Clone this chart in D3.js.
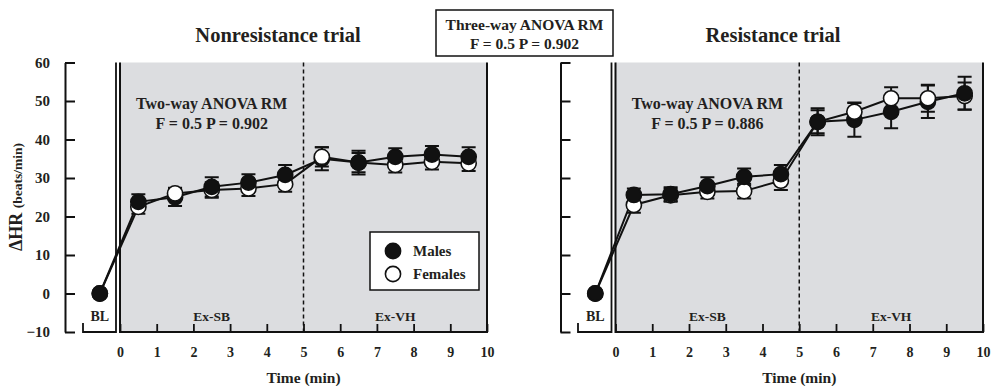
<!DOCTYPE html>
<html>
<head>
<meta charset="utf-8">
<script src="https://cdn.jsdelivr.net/npm/d3@7"></script>
<style>
    body { margin: 0; background: #fff; }
    text { font-family: "Liberation Serif", "Times New Roman", serif; font-weight: bold; fill: #231f20; }
</style>
</head>
<body>
<div id="chart"></div>
<script>
// time points: BL sits left of the exercise window
const timeLabels = ["BL", "0.5", "1.5", "2.5", "3.5", "4.5", "5.5", "6.5", "7.5", "8.5", "9.5"];
const timePoints = [-0.55, 0.5, 1.5, 2.5, 3.5, 4.5, 5.5, 6.5, 7.5, 8.5, 9.5];
const xTicks = [0, 1, 2, 3, 4, 5, 6, 7, 8, 9, 10];
const yTicks = [-10, 0, 10, 20, 30, 40, 50, 60];

// Nonresistance trial
const nonMales = [0, 23.8, 25.0, 27.7, 28.8, 30.8, 35.0, 34.0, 35.5, 36.1, 35.5];
const nonMalesSE = [0, 2.0, 2.3, 2.5, 2.2, 2.6, 3.0, 3.1, 2.2, 2.2, 2.5];
const nonFemales = [0, 22.5, 26.0, 26.9, 27.3, 28.4, 35.5, 34.0, 33.4, 34.2, 33.8];
const nonFemalesSE = [0, 1.8, 1.5, 2.0, 2.0, 2.0, 2.5, 2.5, 2.0, 2.0, 2.0];

// Resistance trial
const resMales = [0, 25.6, 25.8, 27.9, 30.3, 31.0, 44.6, 45.1, 47.2, 49.8, 52.0];
const resMalesSE = [0, 1.7, 1.8, 2.3, 2.2, 2.4, 3.5, 4.4, 4.3, 4.2, 4.3];
const resFemales = [0, 23.0, 25.5, 26.4, 26.6, 29.3, 44.6, 47.2, 50.7, 50.7, 51.3];
const resFemalesSE = [0, 2.0, 1.7, 1.7, 1.9, 2.4, 3.0, 2.4, 2.9, 3.5, 3.5];

const panels = [
    {
        title: "Nonresistance trial", titleX: 278,
        axisX: 65, blLeft: 83, blRight: 116, x0: 120, x10: 487,
        males: nonMales, malesSE: nonMalesSE, females: nonFemales, femalesSE: nonFemalesSE,
        anova: ["Two-way ANOVA RM", "F = 0.5 P = 0.902"],
        labels: true, legend: true
    },
    {
        title: "Resistance trial", titleX: 773,
        axisX: 560.5, blLeft: 578, blRight: 611.5, x0: 615.5, x10: 983,
        males: resMales, malesSE: resMalesSE, females: resFemales, femalesSE: resFemalesSE,
        anova: ["Two-way ANOVA RM", "F = 0.5 P = 0.886"],
        labels: false, legend: false
    }
];

const W = 993, H = 386;
const plotTop = 62.5, plotBottom = 332;

const svg = d3.select("#chart").append("svg")
    .attr("width", W)
    .attr("height", H);

const y = d3.scaleLinear().domain([-10, 60]).range([plotBottom, plotTop]);

function drawPanel(p) {
    const x = d3.scaleLinear().domain([0, 10]).range([p.x0, p.x10]);
    const g = svg.append("g");

    // shaded exercise area
    g.append("rect")
        .attr("x", x(0))
        .attr("y", plotTop)
        .attr("width", x(10) - x(0))
        .attr("height", plotBottom - plotTop)
        .attr("fill", "#dcdde0");

    g.append("path")
        .attr("d", `M${x(0)},${plotTop}V${plotBottom}H${x(10)}V${plotTop}`)
        .attr("fill", "none")
        .attr("stroke", "#111")
        .attr("stroke-width", 2);

    // BL bracket
    g.append("path")
        .attr("d", `M${p.blLeft},${plotBottom - 9}V${plotBottom}H${p.blRight}V${plotTop}`)
        .attr("fill", "none")
        .attr("stroke", "#111")
        .attr("stroke-width", 1.8);

    g.append("line")
        .attr("x1", x(5)).attr("x2", x(5))
        .attr("y1", plotTop).attr("y2", plotBottom)
        .attr("stroke", "#111")
        .attr("stroke-width", 1.5)
        .attr("stroke-dasharray", "4,3");

    // y axis
    const yAxis = g.append("g")
        .attr("transform", `translate(${p.axisX},0)`)
        .call(d3.axisLeft(y).tickValues(yTicks)
            .tickSizeInner(-10).tickSizeOuter(0).tickPadding(15)
            .tickFormat(p.labels ? d3.format("d") : ""));
    yAxis.select(".domain").attr("stroke", "#111").attr("stroke-width", 2);
    yAxis.selectAll(".tick line").attr("stroke", "#111").attr("stroke-width", 2);
    yAxis.selectAll(".tick text")
        .attr("font-size", 15)
        .attr("font-family", null)
        .attr("fill", null);

    // x axis
    const xAxis = g.append("g")
        .attr("transform", `translate(0,${plotBottom})`)
        .call(d3.axisBottom(x).tickValues(xTicks)
            .tickSizeInner(-8).tickSizeOuter(0).tickPadding(15));
    xAxis.select(".domain").remove();
    xAxis.selectAll(".tick line").attr("stroke", "#111").attr("stroke-width", 1.8);
    xAxis.selectAll(".tick text")
        .attr("font-size", 14)
        .attr("font-family", null)
        .attr("fill", null);

    g.append("text")
        .attr("x", x(5))
        .attr("y", 383)
        .attr("text-anchor", "middle")
        .attr("font-size", 15.5)
        .text("Time (min)");

    g.append("text")
        .attr("x", p.titleX)
        .attr("y", 42)
        .attr("text-anchor", "middle")
        .attr("font-size", 20.5)
        .text(p.title);

    // phase labels
    const bx = x(timePoints[0]);
    g.append("text").attr("x", bx).attr("y", 321)
        .attr("text-anchor", "middle").attr("font-size", 14).text("BL");
    g.append("text").attr("x", x(2.5)).attr("y", 321)
        .attr("text-anchor", "middle").attr("font-size", 13.5).text("Ex-SB");
    g.append("text").attr("x", x(7.5)).attr("y", 321)
        .attr("text-anchor", "middle").attr("font-size", 13.5).text("Ex-VH");

    g.selectAll(".anova")
        .data(p.anova)
        .enter()
        .append("text")
        .attr("x", x(2.5))
        .attr("y", (d, i) => 109 + i * 19.5)
        .attr("text-anchor", "middle")
        .attr("font-size", 16)
        .text(d => d);

    const series = [
        { name: "Males", values: p.males, se: p.malesSE, fill: "#111" },
        { name: "Females", values: p.females, se: p.femalesSE, fill: "#fff" }
    ];

    // error bars
    series.forEach(s => {
        s.values.forEach((v, i) => {
            if (s.se[i] === 0) return;
            const cx = x(timePoints[i]);
            const y1 = y(v + s.se[i]), y2 = y(v - s.se[i]);
            g.append("path")
                .attr("d", `M${cx},${y1}V${y2}M${cx - 7},${y1}H${cx + 7}M${cx - 7},${y2}H${cx + 7}`)
                .attr("stroke", "#111")
                .attr("stroke-width", 2)
                .attr("fill", "none");
        });
    });

    const line = d3.line()
        .x((d, i) => x(timePoints[i]))
        .y(d => y(d));

    series.forEach(s => {
        g.append("path")
            .datum(s.values)
            .attr("d", line)
            .attr("fill", "none")
            .attr("stroke", "#111")
            .attr("stroke-width", 2);
    });

    // higher value drawn on top, males win ties
    let pts = [];
    series.slice().reverse().forEach(s => s.values.forEach((v, i) => pts.push({ t: timePoints[i], v: v, fill: s.fill })));
    pts.sort((a, b) => a.v - b.v);
    g.selectAll(".pt")
        .data(pts)
        .enter()
        .append("circle")
        .attr("class", "pt")
        .attr("cx", d => x(d.t))
        .attr("cy", d => y(d.v))
        .attr("r", 7.6)
        .attr("fill", d => d.fill)
        .attr("stroke", "#111")
        .attr("stroke-width", 1.6);

    if (p.legend) {
        const lg = g.append("g").attr("transform", "translate(370,232)");
        lg.append("rect")
            .attr("width", 109).attr("height", 58)
            .attr("fill", "#fff").attr("stroke", "#111").attr("stroke-width", 1.5);
        series.forEach((s, i) => {
            lg.append("circle")
                .attr("cx", 23).attr("cy", 19 + i * 23).attr("r", 7.6)
                .attr("fill", s.fill).attr("stroke", "#111").attr("stroke-width", 1.6);
            lg.append("text")
                .attr("x", 43).attr("y", 24 + i * 23)
                .attr("font-size", 15)
                .text(s.name);
        });
    }

    if (p.labels) {
        g.append("text")
            .attr("transform", "rotate(-90)")
            .attr("x", -197)
            .attr("y", 22)
            .attr("text-anchor", "middle")
            .call(t => {
                t.append("tspan").attr("font-size", 18).text("ΔHR ");
                t.append("tspan").attr("font-size", 13.5).text("(beats/min)");
            });
    }
}

panels.forEach(drawPanel);

// three-way ANOVA box
const threeWay = ["Three-way ANOVA RM", "F = 0.5 P = 0.902"];
svg.append("rect")
    .attr("x", 436).attr("y", 10)
    .attr("width", 177).attr("height", 46)
    .attr("fill", "#fff").attr("stroke", "#111").attr("stroke-width", 1.5);
svg.selectAll(".three")
    .data(threeWay)
    .enter()
    .append("text")
    .attr("class", "three")
    .attr("x", 524.5)
    .attr("y", (d, i) => 30 + i * 18.5)
    .attr("text-anchor", "middle")
    .attr("font-size", 15.5)
    .text(d => d);
</script>
</body>
</html>
